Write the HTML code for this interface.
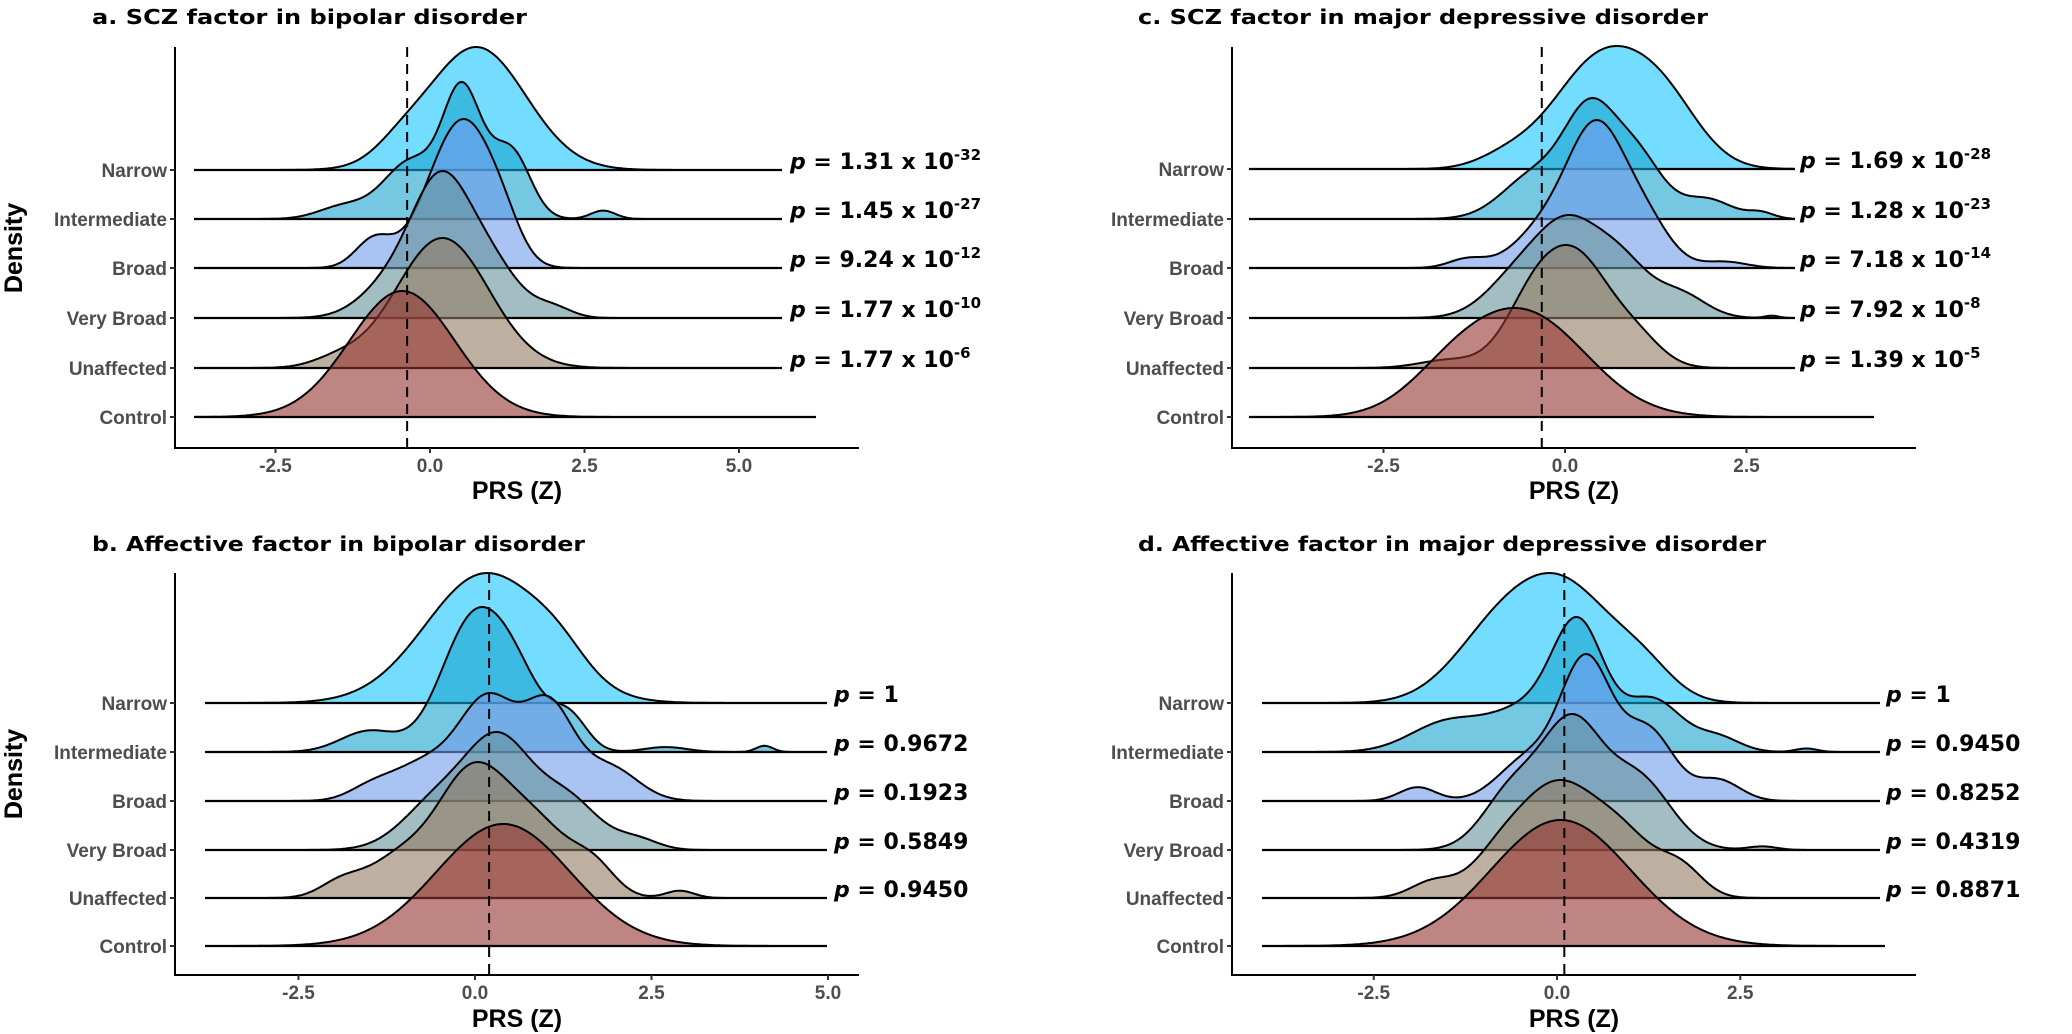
<!DOCTYPE html>
<html><head><meta charset="utf-8">
<style>
html,body{margin:0;padding:0;background:#fff;}
svg{display:block;}
.tl{font-family:"Liberation Sans",sans-serif;font-weight:bold;fill:#4d4d4d;font-size:19px;}
.ti{font-family:"DejaVu Sans","Liberation Sans",sans-serif;font-weight:bold;font-size:20px;fill:#000;}
.pl{font-family:"DejaVu Sans","Liberation Sans",sans-serif;font-weight:bold;font-size:22px;fill:#000;}
.ax{font-family:"Liberation Sans",sans-serif;font-weight:bold;font-size:25px;fill:#000;}
</style></head>
<body>
<svg id="s" width="2072" height="1034" viewBox="0 0 2072 1034" xmlns="http://www.w3.org/2000/svg">
<text class="ti" x="92" y="24" textLength="435" lengthAdjust="spacingAndGlyphs">a. SCZ factor in bipolar disorder</text>
<text class="ti" x="92" y="551" textLength="493" lengthAdjust="spacingAndGlyphs">b. Affective factor in bipolar disorder</text>
<text class="ti" x="1138" y="24" textLength="570" lengthAdjust="spacingAndGlyphs">c. SCZ factor in major depressive disorder</text>
<text class="ti" x="1138" y="551" textLength="628" lengthAdjust="spacingAndGlyphs">d. Affective factor in major depressive disorder</text>
</svg>
<script>
var NS="http://www.w3.org/2000/svg",S=document.getElementById('s');
function el(t,a,txt){var e=document.createElementNS(NS,t);for(var k in a)e.setAttribute(k,a[k]);if(txt!=null)e.textContent=txt;S.appendChild(e);return e;}
var fills=['rgb(23,197,253)','rgb(25,163,207)','rgb(112,155,235)','rgb(102,147,155)','rgb(147,123,97)','rgb(148,52,48)'];
var names=['Narrow','Intermediate','Broad','Very Broad','Unaffected','Control'];
var panels=[
{ax:175,top:47,bot:448,base:[170,219,268,318,368,417],z:430,ppu:61.8,dash:-0.37,ls:194,le:782,cle:816,ticks:[-2.5,0,2.5,5],tl:['-2.5','0.0','2.5','5.0'],px:790,tly:472,axy:499,dy:248,
 p:[['1.31','-32'],['1.45','-27'],['9.24','-12'],['1.77','-10'],['1.77','-6']],
 r:[
 {h:123,m:[[0.75,0.8,1],[-0.5,0.4,0.1]]},
 {h:137,m:[[0.5,0.3,1],[-0.3,0.45,0.55],[1.35,0.3,0.5],[0.9,0.4,0.3],[-1.4,0.4,0.12],[2.8,0.2,0.08]]},
 {h:149,m:[[0.6,0.45,1],[0.0,0.4,0.3],[1.2,0.3,0.2],[-0.9,0.3,0.22]]},
 {h:147,m:[[0.15,0.45,1],[0.9,0.5,0.5],[-0.6,0.5,0.3],[2.0,0.3,0.08]]},
 {h:130,m:[[0.2,0.75,1],[-1.5,0.4,0.06]]},
 {h:126,m:[[-0.45,0.85,1]]}]},
{ax:175,top:573,bot:975,base:[703,752,801,850,898,946],z:475,ppu:70.6,dash:0.2,ls:205,le:827,cle:827,ticks:[-2.5,0,2.5,5],tl:['-2.5','0.0','2.5','5.0'],px:834,tly:999,axy:1027,dy:774,
 p:[['1',''],['0.9672',''],['0.1923',''],['0.5849',''],['0.9450','']],
 r:[
 {h:130,m:[[0.15,0.85,1],[1.2,0.4,0.15]]},
 {h:145,m:[[-0.05,0.45,1],[0.6,0.4,0.5],[1.35,0.25,0.25],[-1.5,0.4,0.17],[2.7,0.3,0.04],[4.1,0.12,0.05]]},
 {h:108,m:[[0.2,0.4,1],[1.05,0.35,0.95],[1.9,0.4,0.35],[-0.7,0.5,0.4],[-1.5,0.3,0.1]]},
 {h:118,m:[[0.35,0.45,1],[-0.5,0.5,0.5],[1.3,0.45,0.5],[2.3,0.3,0.1]]},
 {h:136,m:[[-0.05,0.5,1],[0.9,0.5,0.55],[1.7,0.3,0.2],[-1.1,0.45,0.3],[-1.9,0.3,0.12],[2.9,0.2,0.06]]},
 {h:122,m:[[0.4,0.95,1]]}]},
{ax:1232,top:47,bot:448,base:[169,219,268,318,368,417],z:1565,ppu:72.6,dash:-0.32,ls:1249,le:1795,cle:1874,ticks:[-2.5,0,2.5],tl:['-2.5','0.0','2.5'],px:1800,tly:472,axy:499,dy:248,
 p:[['1.69','-28'],['1.28','-23'],['7.18','-14'],['7.92','-8'],['1.39','-5']],
 r:[
 {h:123,m:[[0.5,0.65,1],[1.4,0.5,0.45],[-0.8,0.4,0.1]]},
 {h:121,m:[[0.35,0.35,1],[1.0,0.35,0.6],[-0.4,0.45,0.45],[1.95,0.35,0.2],[2.7,0.18,0.06]]},
 {h:148,m:[[0.45,0.38,1],[-0.2,0.45,0.35],[1.1,0.35,0.35],[-1.35,0.25,0.07],[2.2,0.3,0.05]]},
 {h:103,m:[[0.05,0.4,1],[0.75,0.4,0.75],[-0.6,0.45,0.6],[1.6,0.35,0.3],[2.85,0.1,0.03]]},
 {h:123,m:[[0.2,0.45,1],[-0.45,0.4,0.6],[1.0,0.35,0.25],[-1.6,0.4,0.08]]},
 {h:109,m:[[-0.55,0.85,1],[-1.6,0.6,0.25]]}]},
{ax:1232,top:573,bot:975,base:[703,752,801,850,898,946],z:1557,ppu:73.3,dash:0.1,ls:1262,le:1880,cle:1885,ticks:[-2.5,0,2.5],tl:['-2.5','0.0','2.5'],px:1886,tly:999,axy:1027,dy:774,
 p:[['1',''],['0.9450',''],['0.8252',''],['0.4319',''],['0.8871','']],
 r:[
 {h:130,m:[[0.1,0.7,1],[-0.9,0.6,0.45],[1.2,0.4,0.2]]},
 {h:135,m:[[0.3,0.35,1],[1.3,0.4,0.45],[-0.4,0.5,0.35],[-1.5,0.5,0.25],[2.2,0.3,0.12],[3.4,0.15,0.03]]},
 {h:147,m:[[0.4,0.35,1],[1.25,0.35,0.5],[-0.4,0.4,0.3],[-1.9,0.25,0.1],[2.2,0.3,0.15]]},
 {h:136,m:[[0.2,0.4,1],[-0.6,0.4,0.5],[1.1,0.45,0.6],[2.8,0.2,0.03]]},
 {h:118,m:[[0.0,0.5,1],[0.9,0.45,0.55],[-0.8,0.4,0.35],[-1.7,0.3,0.15],[1.7,0.3,0.25]]},
 {h:126,m:[[0.05,0.95,1]]}]}
];
function dens(m,v){var s=0;for(var i=0;i<m.length;i++){var d=(v-m[i][0])/m[i][1];s+=m[i][2]*Math.exp(-0.5*d*d);}return s;}
panels.forEach(function(P){
  P.r.forEach(function(R,i){
    var by=P.base[i],xe=(i==5?P.cle:P.le);
    var xs=[],ys=[],mx=0;
    for(var x=P.ls;x<=xe;x+=1.5){var d=dens(R.m,(x-P.z)/P.ppu);xs.push(x);ys.push(d);if(d>mx)mx=d;}
    var pts=[];
    for(var k=0;k<xs.length;k++){var hh=ys[k]/mx*R.h;pts.push([xs[k],by-hh]);}
    var dd='M'+P.ls+','+by;
    pts.forEach(function(p){dd+=' L'+p[0].toFixed(1)+','+p[1].toFixed(1);});
    dd+=' L'+xe+','+by+' Z';
    el('path',{d:dd,fill:fills[i],'fill-opacity':0.6,stroke:'none'});
    var od='M'+pts[0][0]+','+pts[0][1].toFixed(1);
    pts.forEach(function(p){od+=' L'+p[0].toFixed(1)+','+p[1].toFixed(1);});
    el('path',{d:od,fill:'none',stroke:'#000','stroke-width':2,'stroke-linejoin':'round'});
    el('line',{x1:P.ls,y1:by,x2:xe,y2:by,stroke:'#000','stroke-width':2.2});
  });
  var dx=P.z+P.dash*P.ppu;
  el('line',{x1:dx,y1:P.top,x2:dx,y2:P.bot,stroke:'#000','stroke-width':2,'stroke-dasharray':'10,7'});
  el('line',{x1:P.ax,y1:P.top,x2:P.ax,y2:P.bot+1,stroke:'#000','stroke-width':2});
  el('line',{x1:P.ax-1,y1:P.bot,x2:P.ax+684,y2:P.bot,stroke:'#000','stroke-width':2});
  P.base.forEach(function(by,i){
    el('line',{x1:P.ax-5,y1:by,x2:P.ax,y2:by,stroke:'#333','stroke-width':2});
    el('text',{'class':'tl',x:P.ax-8,y:by+7,'text-anchor':'end'},names[i]);
  });
  P.ticks.forEach(function(t,j){
    var x=P.z+t*P.ppu;
    el('line',{x1:x,y1:P.bot,x2:x,y2:P.bot+5,stroke:'#333','stroke-width':2});
    el('text',{'class':'tl',x:x,y:P.tly,'text-anchor':'middle'},P.tl[j]);
  });
  el('text',{'class':'ax',x:P.ax+342,y:P.axy,'text-anchor':'middle'},'PRS (Z)');
  el('text',{'class':'ax',x:0,y:0,'text-anchor':'middle',transform:'translate(22,'+P.dy+') rotate(-90)'},'Density');
  P.p.forEach(function(pp,i){
    var t=el('text',{'class':'pl',x:P.px,y:P.base[i]-1});
    var a=document.createElementNS(NS,'tspan');a.setAttribute('font-style','italic');a.textContent='p';t.appendChild(a);
    var b=document.createElementNS(NS,'tspan');
    b.textContent=pp[1]?(' = '+pp[0]+' x 10'):(' = '+pp[0]);t.appendChild(b);
    if(pp[1]){var c=document.createElementNS(NS,'tspan');c.setAttribute('font-size','15');c.setAttribute('dy','-9');c.textContent=pp[1];t.appendChild(c);}
  });
});
</script>
</body></html>
